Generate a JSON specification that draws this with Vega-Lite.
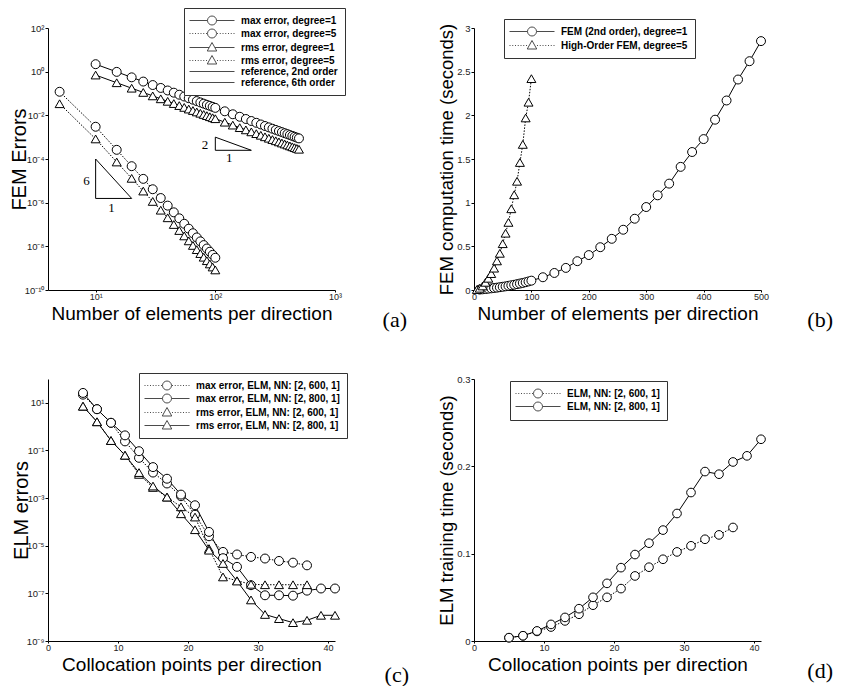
{
"$schema": "https://vega.github.io/schema/vega-lite/v6.json",
"background": "white",
"padding": {"left": 9, "top": 7, "right": 5, "bottom": 12},
"columns": 2,
"bounds": "flush",
"spacing": {"row": 89, "column": 139},
"config": {
  "view": {"stroke": null},
  "font": "Liberation Sans",
  "axis": {"grid": false, "domainColor": "black", "tickColor": "black", "tickSize": 3, "labelFont": "Liberation Sans", "labelFontSize": 9.5, "labelColor": "#222", "labelPadding": 1, "titleFont": "Liberation Sans", "titleFontSize": 19, "titleFontWeight": "normal", "titleColor": "black", "labelFlush": false, "labelOverlap": false},
  "axisX": {"titlePadding": 3, "tickSize": 2, "labelPadding": 0, "labelFontSize": 9},
  "axisY": {"titlePadding": -5},
  "legend": {"orient": "none", "title": null, "labelFont": "Liberation Sans", "labelFontWeight": "bold", "labelFontSize": 10, "labelColor": "black", "symbolSize": 100, "symbolOffset": 15.5, "labelOffset": 23.5, "rowPadding": 0, "padding": 7, "strokeColor": "#333", "fillColor": "white", "symbolStrokeWidth": 1, "symbolStrokeColor": "black", "symbolFillColor": "white", "cornerRadius": 0, "labelLimit": 400},
  "title": {"font": "Liberation Serif", "fontSize": 22, "fontWeight": "normal", "color": "black", "orient": "bottom", "anchor": "end", "frame": "group"}
},
"datasets": {
  "fa": [
    {"s": "max error, degree=1", "n": 10, "e": 2.2}, {"s": "max error, degree=1", "n": 15, "e": 0.978}, {"s": "max error, degree=1", "n": 20, "e": 0.55}, {"s": "max error, degree=1", "n": 25, "e": 0.352}, {"s": "max error, degree=1", "n": 30, "e": 0.244}, {"s": "max error, degree=1", "n": 35, "e": 0.18}, {"s": "max error, degree=1", "n": 40, "e": 0.1375}, {"s": "max error, degree=1", "n": 45, "e": 0.109}, {"s": "max error, degree=1", "n": 50, "e": 0.088}, {"s": "max error, degree=1", "n": 55, "e": 0.0727}, {"s": "max error, degree=1", "n": 60, "e": 0.0611}, {"s": "max error, degree=1", "n": 65, "e": 0.0521}, {"s": "max error, degree=1", "n": 70, "e": 0.0449}, {"s": "max error, degree=1", "n": 75, "e": 0.0391}, {"s": "max error, degree=1", "n": 80, "e": 0.0344}, {"s": "max error, degree=1", "n": 85, "e": 0.0304}, {"s": "max error, degree=1", "n": 90, "e": 0.0272}, {"s": "max error, degree=1", "n": 95, "e": 0.0244}, {"s": "max error, degree=1", "n": 100, "e": 0.022},
    {"s": "max error, degree=1", "n": 120, "e": 0.0153}, {"s": "max error, degree=1", "n": 140, "e": 0.0112}, {"s": "max error, degree=1", "n": 160, "e": 0.0086}, {"s": "max error, degree=1", "n": 180, "e": 0.0068}, {"s": "max error, degree=1", "n": 200, "e": 0.0055}, {"s": "max error, degree=1", "n": 220, "e": 0.00455}, {"s": "max error, degree=1", "n": 240, "e": 0.00382}, {"s": "max error, degree=1", "n": 260, "e": 0.00325}, {"s": "max error, degree=1", "n": 280, "e": 0.00281}, {"s": "max error, degree=1", "n": 300, "e": 0.00244}, {"s": "max error, degree=1", "n": 320, "e": 0.00215}, {"s": "max error, degree=1", "n": 340, "e": 0.0019}, {"s": "max error, degree=1", "n": 360, "e": 0.0017}, {"s": "max error, degree=1", "n": 380, "e": 0.00152}, {"s": "max error, degree=1", "n": 400, "e": 0.00138}, {"s": "max error, degree=1", "n": 420, "e": 0.00125}, {"s": "max error, degree=1", "n": 440, "e": 0.00114}, {"s": "max error, degree=1", "n": 460, "e": 0.00104}, {"s": "max error, degree=1", "n": 480, "e": 0.000955}, {"s": "max error, degree=1", "n": 500, "e": 0.00088},
    {"s": "rms error, degree=1", "n": 10, "e": 0.7}, {"s": "rms error, degree=1", "n": 15, "e": 0.311}, {"s": "rms error, degree=1", "n": 20, "e": 0.175}, {"s": "rms error, degree=1", "n": 25, "e": 0.112}, {"s": "rms error, degree=1", "n": 30, "e": 0.0778}, {"s": "rms error, degree=1", "n": 35, "e": 0.0571}, {"s": "rms error, degree=1", "n": 40, "e": 0.0438}, {"s": "rms error, degree=1", "n": 45, "e": 0.0346}, {"s": "rms error, degree=1", "n": 50, "e": 0.028}, {"s": "rms error, degree=1", "n": 55, "e": 0.0231}, {"s": "rms error, degree=1", "n": 60, "e": 0.0194}, {"s": "rms error, degree=1", "n": 65, "e": 0.0166}, {"s": "rms error, degree=1", "n": 70, "e": 0.0143}, {"s": "rms error, degree=1", "n": 75, "e": 0.01244}, {"s": "rms error, degree=1", "n": 80, "e": 0.01094}, {"s": "rms error, degree=1", "n": 85, "e": 0.00969}, {"s": "rms error, degree=1", "n": 90, "e": 0.00864}, {"s": "rms error, degree=1", "n": 95, "e": 0.00776}, {"s": "rms error, degree=1", "n": 100, "e": 0.007},
    {"s": "rms error, degree=1", "n": 120, "e": 0.00486}, {"s": "rms error, degree=1", "n": 140, "e": 0.00357}, {"s": "rms error, degree=1", "n": 160, "e": 0.00273}, {"s": "rms error, degree=1", "n": 180, "e": 0.00216}, {"s": "rms error, degree=1", "n": 200, "e": 0.00175}, {"s": "rms error, degree=1", "n": 220, "e": 0.00145}, {"s": "rms error, degree=1", "n": 240, "e": 0.00122}, {"s": "rms error, degree=1", "n": 260, "e": 0.00104}, {"s": "rms error, degree=1", "n": 280, "e": 0.000893}, {"s": "rms error, degree=1", "n": 300, "e": 0.000778}, {"s": "rms error, degree=1", "n": 320, "e": 0.000684}, {"s": "rms error, degree=1", "n": 340, "e": 0.000606}, {"s": "rms error, degree=1", "n": 360, "e": 0.00054}, {"s": "rms error, degree=1", "n": 380, "e": 0.000485}, {"s": "rms error, degree=1", "n": 400, "e": 0.000438}, {"s": "rms error, degree=1", "n": 420, "e": 0.000397}, {"s": "rms error, degree=1", "n": 440, "e": 0.000362}, {"s": "rms error, degree=1", "n": 460, "e": 0.000331}, {"s": "rms error, degree=1", "n": 480, "e": 0.000304}, {"s": "rms error, degree=1", "n": 500, "e": 0.00028},
    {"s": "max error, degree=5", "n": 5, "e": 0.12}, {"s": "max error, degree=5", "n": 10, "e": 0.003}, {"s": "max error, degree=5", "n": 15, "e": 0.000263}, {"s": "max error, degree=5", "n": 20, "e": 4.69e-5}, {"s": "max error, degree=5", "n": 25, "e": 1.23e-5}, {"s": "max error, degree=5", "n": 30, "e": 4.12e-6}, {"s": "max error, degree=5", "n": 35, "e": 1.63e-6}, {"s": "max error, degree=5", "n": 40, "e": 7.32e-7}, {"s": "max error, degree=5", "n": 45, "e": 3.61e-7}, {"s": "max error, degree=5", "n": 50, "e": 1.92e-7}, {"s": "max error, degree=5", "n": 55, "e": 1.08e-7}, {"s": "max error, degree=5", "n": 60, "e": 6.43e-8}, {"s": "max error, degree=5", "n": 65, "e": 3.98e-8}, {"s": "max error, degree=5", "n": 70, "e": 2.55e-8}, {"s": "max error, degree=5", "n": 75, "e": 1.69e-8}, {"s": "max error, degree=5", "n": 80, "e": 1.14e-8}, {"s": "max error, degree=5", "n": 85, "e": 7.95e-9}, {"s": "max error, degree=5", "n": 90, "e": 5.65e-9}, {"s": "max error, degree=5", "n": 95, "e": 4.08e-9}, {"s": "max error, degree=5", "n": 100, "e": 3.0e-9},
    {"s": "rms error, degree=5", "n": 5, "e": 0.034}, {"s": "rms error, degree=5", "n": 10, "e": 0.00083}, {"s": "rms error, degree=5", "n": 15, "e": 7.29e-5}, {"s": "rms error, degree=5", "n": 20, "e": 1.3e-5}, {"s": "rms error, degree=5", "n": 25, "e": 3.4e-6}, {"s": "rms error, degree=5", "n": 30, "e": 1.14e-6}, {"s": "rms error, degree=5", "n": 35, "e": 4.52e-7}, {"s": "rms error, degree=5", "n": 40, "e": 2.03e-7}, {"s": "rms error, degree=5", "n": 45, "e": 1.0e-7}, {"s": "rms error, degree=5", "n": 50, "e": 5.31e-8}, {"s": "rms error, degree=5", "n": 55, "e": 3.0e-8}, {"s": "rms error, degree=5", "n": 60, "e": 1.78e-8}, {"s": "rms error, degree=5", "n": 65, "e": 1.1e-8}, {"s": "rms error, degree=5", "n": 70, "e": 7.05e-9}, {"s": "rms error, degree=5", "n": 75, "e": 4.66e-9}, {"s": "rms error, degree=5", "n": 80, "e": 3.17e-9}, {"s": "rms error, degree=5", "n": 85, "e": 2.2e-9}, {"s": "rms error, degree=5", "n": 90, "e": 1.56e-9}, {"s": "rms error, degree=5", "n": 95, "e": 1.13e-9}, {"s": "rms error, degree=5", "n": 100, "e": 8.3e-10}
  ],
  "ta": [
    {"s": "reference, 2nd order", "n": 100, "e": 0.001, "k": 0}, {"s": "reference, 2nd order", "n": 100, "e": 0.00025, "k": 1}, {"s": "reference, 2nd order", "n": 200, "e": 0.00025, "k": 2}, {"s": "reference, 2nd order", "n": 100, "e": 0.001, "k": 3},
    {"s": "reference, 6th order", "n": 10, "e": 0.0001, "k": 0}, {"s": "reference, 6th order", "n": 10, "e": 1.56e-6, "k": 1}, {"s": "reference, 6th order", "n": 20, "e": 1.56e-6, "k": 2}, {"s": "reference, 6th order", "n": 10, "e": 0.0001, "k": 3}
  ],
  "la": [
    {"t": "2", "n": 82, "e": 0.00044}, {"t": "1", "n": 131, "e": 0.00011}, {"t": "6", "n": 8.4, "e": 1e-5}, {"t": "1", "n": 13.6, "e": 5.6e-7}
  ],
  "fb": [
    {"s": "FEM (2nd order), degree=1", "n": 10, "t": 0.005}, {"s": "FEM (2nd order), degree=1", "n": 15, "t": 0.008}, {"s": "FEM (2nd order), degree=1", "n": 20, "t": 0.011}, {"s": "FEM (2nd order), degree=1", "n": 25, "t": 0.015}, {"s": "FEM (2nd order), degree=1", "n": 30, "t": 0.019}, {"s": "FEM (2nd order), degree=1", "n": 35, "t": 0.023}, {"s": "FEM (2nd order), degree=1", "n": 40, "t": 0.027}, {"s": "FEM (2nd order), degree=1", "n": 45, "t": 0.032}, {"s": "FEM (2nd order), degree=1", "n": 50, "t": 0.037}, {"s": "FEM (2nd order), degree=1", "n": 55, "t": 0.042}, {"s": "FEM (2nd order), degree=1", "n": 60, "t": 0.048}, {"s": "FEM (2nd order), degree=1", "n": 65, "t": 0.054}, {"s": "FEM (2nd order), degree=1", "n": 70, "t": 0.06}, {"s": "FEM (2nd order), degree=1", "n": 75, "t": 0.067}, {"s": "FEM (2nd order), degree=1", "n": 80, "t": 0.074}, {"s": "FEM (2nd order), degree=1", "n": 85, "t": 0.081}, {"s": "FEM (2nd order), degree=1", "n": 90, "t": 0.089}, {"s": "FEM (2nd order), degree=1", "n": 95, "t": 0.098}, {"s": "FEM (2nd order), degree=1", "n": 100, "t": 0.107},
    {"s": "FEM (2nd order), degree=1", "n": 120, "t": 0.146}, {"s": "FEM (2nd order), degree=1", "n": 140, "t": 0.195}, {"s": "FEM (2nd order), degree=1", "n": 160, "t": 0.253}, {"s": "FEM (2nd order), degree=1", "n": 180, "t": 0.33}, {"s": "FEM (2nd order), degree=1", "n": 200, "t": 0.4}, {"s": "FEM (2nd order), degree=1", "n": 220, "t": 0.49}, {"s": "FEM (2nd order), degree=1", "n": 240, "t": 0.586}, {"s": "FEM (2nd order), degree=1", "n": 260, "t": 0.69}, {"s": "FEM (2nd order), degree=1", "n": 280, "t": 0.816}, {"s": "FEM (2nd order), degree=1", "n": 300, "t": 0.95}, {"s": "FEM (2nd order), degree=1", "n": 320, "t": 1.084}, {"s": "FEM (2nd order), degree=1", "n": 340, "t": 1.218}, {"s": "FEM (2nd order), degree=1", "n": 360, "t": 1.41}, {"s": "FEM (2nd order), degree=1", "n": 380, "t": 1.58}, {"s": "FEM (2nd order), degree=1", "n": 400, "t": 1.728}, {"s": "FEM (2nd order), degree=1", "n": 420, "t": 1.95}, {"s": "FEM (2nd order), degree=1", "n": 440, "t": 2.17}, {"s": "FEM (2nd order), degree=1", "n": 460, "t": 2.41}, {"s": "FEM (2nd order), degree=1", "n": 480, "t": 2.62}, {"s": "FEM (2nd order), degree=1", "n": 500, "t": 2.85},
    {"s": "High-Order FEM, degree=5", "n": 5, "t": 0.005}, {"s": "High-Order FEM, degree=5", "n": 10, "t": 0.02}, {"s": "High-Order FEM, degree=5", "n": 15, "t": 0.046}, {"s": "High-Order FEM, degree=5", "n": 20, "t": 0.088}, {"s": "High-Order FEM, degree=5", "n": 25, "t": 0.134}, {"s": "High-Order FEM, degree=5", "n": 30, "t": 0.188}, {"s": "High-Order FEM, degree=5", "n": 35, "t": 0.25}, {"s": "High-Order FEM, degree=5", "n": 40, "t": 0.333}, {"s": "High-Order FEM, degree=5", "n": 45, "t": 0.42}, {"s": "High-Order FEM, degree=5", "n": 50, "t": 0.53}, {"s": "High-Order FEM, degree=5", "n": 55, "t": 0.65}, {"s": "High-Order FEM, degree=5", "n": 60, "t": 0.774}, {"s": "High-Order FEM, degree=5", "n": 65, "t": 0.93}, {"s": "High-Order FEM, degree=5", "n": 70, "t": 1.09}, {"s": "High-Order FEM, degree=5", "n": 75, "t": 1.245}, {"s": "High-Order FEM, degree=5", "n": 80, "t": 1.46}, {"s": "High-Order FEM, degree=5", "n": 85, "t": 1.667}, {"s": "High-Order FEM, degree=5", "n": 90, "t": 1.97}, {"s": "High-Order FEM, degree=5", "n": 95, "t": 2.15}, {"s": "High-Order FEM, degree=5", "n": 100, "t": 2.42}
  ],
  "fc": [
    {"s": "max error, ELM, NN: [2, 600, 1]", "p": 5, "e": 22}, {"s": "max error, ELM, NN: [2, 600, 1]", "p": 7, "e": 5.4}, {"s": "max error, ELM, NN: [2, 600, 1]", "p": 9, "e": 1.45}, {"s": "max error, ELM, NN: [2, 600, 1]", "p": 11, "e": 0.24}, {"s": "max error, ELM, NN: [2, 600, 1]", "p": 13, "e": 0.049}, {"s": "max error, ELM, NN: [2, 600, 1]", "p": 15, "e": 0.0118}, {"s": "max error, ELM, NN: [2, 600, 1]", "p": 17, "e": 0.0041}, {"s": "max error, ELM, NN: [2, 600, 1]", "p": 19, "e": 0.0012}, {"s": "max error, ELM, NN: [2, 600, 1]", "p": 21, "e": 0.0002}, {"s": "max error, ELM, NN: [2, 600, 1]", "p": 23, "e": 2.5e-5}, {"s": "max error, ELM, NN: [2, 600, 1]", "p": 25, "e": 5.5e-6}, {"s": "max error, ELM, NN: [2, 600, 1]", "p": 27, "e": 4.3e-6}, {"s": "max error, ELM, NN: [2, 600, 1]", "p": 29, "e": 3.4e-6}, {"s": "max error, ELM, NN: [2, 600, 1]", "p": 31, "e": 2.9e-6}, {"s": "max error, ELM, NN: [2, 600, 1]", "p": 33, "e": 2.3e-6}, {"s": "max error, ELM, NN: [2, 600, 1]", "p": 35, "e": 1.95e-6}, {"s": "max error, ELM, NN: [2, 600, 1]", "p": 37, "e": 1.5e-6},
    {"s": "max error, ELM, NN: [2, 800, 1]", "p": 5, "e": 26}, {"s": "max error, ELM, NN: [2, 800, 1]", "p": 7, "e": 5.4}, {"s": "max error, ELM, NN: [2, 800, 1]", "p": 9, "e": 1.45}, {"s": "max error, ELM, NN: [2, 800, 1]", "p": 11, "e": 0.43}, {"s": "max error, ELM, NN: [2, 800, 1]", "p": 13, "e": 0.093}, {"s": "max error, ELM, NN: [2, 800, 1]", "p": 15, "e": 0.02}, {"s": "max error, ELM, NN: [2, 800, 1]", "p": 17, "e": 0.0065}, {"s": "max error, ELM, NN: [2, 800, 1]", "p": 19, "e": 0.0014}, {"s": "max error, ELM, NN: [2, 800, 1]", "p": 21, "e": 0.0005}, {"s": "max error, ELM, NN: [2, 800, 1]", "p": 23, "e": 3.8e-5}, {"s": "max error, ELM, NN: [2, 800, 1]", "p": 25, "e": 3e-6}, {"s": "max error, ELM, NN: [2, 800, 1]", "p": 27, "e": 1.3e-6}, {"s": "max error, ELM, NN: [2, 800, 1]", "p": 29, "e": 2.2e-7}, {"s": "max error, ELM, NN: [2, 800, 1]", "p": 31, "e": 8.3e-8}, {"s": "max error, ELM, NN: [2, 800, 1]", "p": 33, "e": 8.3e-8}, {"s": "max error, ELM, NN: [2, 800, 1]", "p": 35, "e": 8e-8}, {"s": "max error, ELM, NN: [2, 800, 1]", "p": 37, "e": 1.3e-7}, {"s": "max error, ELM, NN: [2, 800, 1]", "p": 39, "e": 1.6e-7}, {"s": "max error, ELM, NN: [2, 800, 1]", "p": 41, "e": 1.6e-7},
    {"s": "rms error, ELM, NN: [2, 600, 1]", "p": 5, "e": 7.2}, {"s": "rms error, ELM, NN: [2, 600, 1]", "p": 7, "e": 1.6}, {"s": "rms error, ELM, NN: [2, 600, 1]", "p": 9, "e": 0.26}, {"s": "rms error, ELM, NN: [2, 600, 1]", "p": 11, "e": 0.063}, {"s": "rms error, ELM, NN: [2, 600, 1]", "p": 13, "e": 0.0099}, {"s": "rms error, ELM, NN: [2, 600, 1]", "p": 15, "e": 0.0028}, {"s": "rms error, ELM, NN: [2, 600, 1]", "p": 17, "e": 0.0011}, {"s": "rms error, ELM, NN: [2, 600, 1]", "p": 19, "e": 0.00043}, {"s": "rms error, ELM, NN: [2, 600, 1]", "p": 21, "e": 0.00016}, {"s": "rms error, ELM, NN: [2, 600, 1]", "p": 23, "e": 7.6e-6}, {"s": "rms error, ELM, NN: [2, 600, 1]", "p": 25, "e": 4.9e-7}, {"s": "rms error, ELM, NN: [2, 600, 1]", "p": 27, "e": 3.4e-7}, {"s": "rms error, ELM, NN: [2, 600, 1]", "p": 29, "e": 2.4e-7}, {"s": "rms error, ELM, NN: [2, 600, 1]", "p": 31, "e": 2.3e-7}, {"s": "rms error, ELM, NN: [2, 600, 1]", "p": 33, "e": 2.3e-7}, {"s": "rms error, ELM, NN: [2, 600, 1]", "p": 35, "e": 2.3e-7}, {"s": "rms error, ELM, NN: [2, 600, 1]", "p": 37, "e": 2.3e-7},
    {"s": "rms error, ELM, NN: [2, 800, 1]", "p": 5, "e": 7.2}, {"s": "rms error, ELM, NN: [2, 800, 1]", "p": 7, "e": 1.6}, {"s": "rms error, ELM, NN: [2, 800, 1]", "p": 9, "e": 0.26}, {"s": "rms error, ELM, NN: [2, 800, 1]", "p": 11, "e": 0.063}, {"s": "rms error, ELM, NN: [2, 800, 1]", "p": 13, "e": 0.0118}, {"s": "rms error, ELM, NN: [2, 800, 1]", "p": 15, "e": 0.0032}, {"s": "rms error, ELM, NN: [2, 800, 1]", "p": 17, "e": 0.0011}, {"s": "rms error, ELM, NN: [2, 800, 1]", "p": 19, "e": 0.00022}, {"s": "rms error, ELM, NN: [2, 800, 1]", "p": 21, "e": 4.7e-5}, {"s": "rms error, ELM, NN: [2, 800, 1]", "p": 23, "e": 6.5e-6}, {"s": "rms error, ELM, NN: [2, 800, 1]", "p": 25, "e": 1.8e-6}, {"s": "rms error, ELM, NN: [2, 800, 1]", "p": 27, "e": 3.3e-7}, {"s": "rms error, ELM, NN: [2, 800, 1]", "p": 29, "e": 5.3e-8}, {"s": "rms error, ELM, NN: [2, 800, 1]", "p": 31, "e": 1.3e-8}, {"s": "rms error, ELM, NN: [2, 800, 1]", "p": 33, "e": 8.7e-9}, {"s": "rms error, ELM, NN: [2, 800, 1]", "p": 35, "e": 5.9e-9}, {"s": "rms error, ELM, NN: [2, 800, 1]", "p": 37, "e": 7.4e-9}, {"s": "rms error, ELM, NN: [2, 800, 1]", "p": 39, "e": 1.2e-8}, {"s": "rms error, ELM, NN: [2, 800, 1]", "p": 41, "e": 1.2e-8}
  ],
  "fd": [
    {"s": "ELM, NN: [2, 600, 1]", "p": 5, "t": 0.0038}, {"s": "ELM, NN: [2, 600, 1]", "p": 7, "t": 0.006}, {"s": "ELM, NN: [2, 600, 1]", "p": 9, "t": 0.011}, {"s": "ELM, NN: [2, 600, 1]", "p": 11, "t": 0.016}, {"s": "ELM, NN: [2, 600, 1]", "p": 13, "t": 0.023}, {"s": "ELM, NN: [2, 600, 1]", "p": 15, "t": 0.0306}, {"s": "ELM, NN: [2, 600, 1]", "p": 17, "t": 0.041}, {"s": "ELM, NN: [2, 600, 1]", "p": 19, "t": 0.05}, {"s": "ELM, NN: [2, 600, 1]", "p": 21, "t": 0.06}, {"s": "ELM, NN: [2, 600, 1]", "p": 23, "t": 0.0745}, {"s": "ELM, NN: [2, 600, 1]", "p": 25, "t": 0.0845}, {"s": "ELM, NN: [2, 600, 1]", "p": 27, "t": 0.0936}, {"s": "ELM, NN: [2, 600, 1]", "p": 29, "t": 0.102}, {"s": "ELM, NN: [2, 600, 1]", "p": 31, "t": 0.109}, {"s": "ELM, NN: [2, 600, 1]", "p": 33, "t": 0.1165}, {"s": "ELM, NN: [2, 600, 1]", "p": 35, "t": 0.1215}, {"s": "ELM, NN: [2, 600, 1]", "p": 37, "t": 0.13},
    {"s": "ELM, NN: [2, 800, 1]", "p": 5, "t": 0.0038}, {"s": "ELM, NN: [2, 800, 1]", "p": 7, "t": 0.006}, {"s": "ELM, NN: [2, 800, 1]", "p": 9, "t": 0.0115}, {"s": "ELM, NN: [2, 800, 1]", "p": 11, "t": 0.019}, {"s": "ELM, NN: [2, 800, 1]", "p": 13, "t": 0.027}, {"s": "ELM, NN: [2, 800, 1]", "p": 15, "t": 0.037}, {"s": "ELM, NN: [2, 800, 1]", "p": 17, "t": 0.05}, {"s": "ELM, NN: [2, 800, 1]", "p": 19, "t": 0.066}, {"s": "ELM, NN: [2, 800, 1]", "p": 21, "t": 0.084}, {"s": "ELM, NN: [2, 800, 1]", "p": 23, "t": 0.099}, {"s": "ELM, NN: [2, 800, 1]", "p": 25, "t": 0.112}, {"s": "ELM, NN: [2, 800, 1]", "p": 27, "t": 0.127}, {"s": "ELM, NN: [2, 800, 1]", "p": 29, "t": 0.146}, {"s": "ELM, NN: [2, 800, 1]", "p": 31, "t": 0.17}, {"s": "ELM, NN: [2, 800, 1]", "p": 33, "t": 0.194}, {"s": "ELM, NN: [2, 800, 1]", "p": 35, "t": 0.191}, {"s": "ELM, NN: [2, 800, 1]", "p": 37, "t": 0.205}, {"s": "ELM, NN: [2, 800, 1]", "p": 39, "t": 0.212}, {"s": "ELM, NN: [2, 800, 1]", "p": 41, "t": 0.231}
  ]
},
"concat": [
  {
    "width": 287, "height": 262,
    "title": {"text": "(a)", "dx": 72, "dy": -17},
    "resolve": {"scale": {"shape": "independent"}},
    "layer": [
      {"data": {"name": "fa"}, "transform": [{"filter": {"field": "s", "oneOf": ["max error, degree=1", "rms error, degree=1"]}}], "mark": {"type": "line", "color": "black", "strokeWidth": 1},
       "encoding": {
         "x": {"field": "n", "type": "quantitative", "scale": {"type": "log", "domain": [4, 1000]}, "axis": {"title": "Number of elements per direction", "values": [10, 100, 1000], "labelExpr": "datum.value < 50 ? '10¹' : datum.value < 500 ? '10²' : '10³'"}},
         "y": {"field": "e", "type": "quantitative", "scale": {"type": "log", "domain": [1e-10, 100]}, "axis": {"title": "FEM Errors", "titleFontSize": 20, "values": [1e-10, 1e-8, 1e-6, 0.0001, 0.01, 1, 100], "labelExpr": "datum.value >= 50 ? '10²' : datum.value >= 0.5 ? '10⁰' : datum.value >= 0.005 ? '10⁻²' : datum.value >= 0.00005 ? '10⁻⁴' : datum.value >= 5e-7 ? '10⁻⁶' : datum.value >= 5e-9 ? '10⁻⁸' : '10⁻¹⁰'"}},
         "detail": {"field": "s"}
       }},
      {"data": {"name": "fa"}, "transform": [{"filter": {"field": "s", "oneOf": ["max error, degree=5", "rms error, degree=5"]}}], "mark": {"type": "line", "color": "black", "strokeWidth": 1, "strokeDash": [1.5, 1.5]},
       "encoding": {
         "x": {"field": "n", "type": "quantitative", "scale": {"type": "log", "domain": [4, 1000]}},
         "y": {"field": "e", "type": "quantitative", "scale": {"type": "log", "domain": [1e-10, 100]}},
         "detail": {"field": "s"}
       }},
      {"data": {"name": "ta"}, "mark": {"type": "line", "color": "black", "strokeWidth": 1},
       "encoding": {
         "x": {"field": "n", "type": "quantitative", "scale": {"type": "log", "domain": [4, 1000]}},
         "y": {"field": "e", "type": "quantitative", "scale": {"type": "log", "domain": [1e-10, 100]}},
         "detail": {"field": "s"},
         "order": {"field": "k", "type": "quantitative"}
       }},
      {"data": {"name": "fa"}, "mark": {"type": "point", "filled": true, "fill": "white", "stroke": "black", "strokeWidth": 1, "size": 80, "opacity": 1},
       "encoding": {
         "x": {"field": "n", "type": "quantitative", "scale": {"type": "log", "domain": [4, 1000]}},
         "y": {"field": "e", "type": "quantitative", "scale": {"type": "log", "domain": [1e-10, 100]}},
         "shape": {"field": "s", "type": "nominal", "scale": {"domain": ["max error, degree=1", "max error, degree=5", "rms error, degree=1", "rms error, degree=5"], "range": ["circle", "circle", "triangle-up", "triangle-up"]}, "legend": null}
       }},
      {"data": {"name": "la"}, "mark": {"type": "text", "font": "Liberation Serif", "fontSize": 13, "color": "black"},
       "encoding": {
         "x": {"field": "n", "type": "quantitative", "scale": {"type": "log", "domain": [4, 1000]}},
         "y": {"field": "e", "type": "quantitative", "scale": {"type": "log", "domain": [1e-10, 100]}},
         "text": {"field": "t"}
       }},
      {"data": {"name": "fa"}, "transform": [{"filter": "false"}], "mark": {"type": "point", "color": "black"},
       "encoding": {
         "x": {"field": "n", "type": "quantitative", "scale": {"type": "log", "domain": [4, 1000]}},
         "y": {"field": "e", "type": "quantitative", "scale": {"type": "log", "domain": [1e-10, 100]}},
         "shape": {"field": "s", "type": "nominal",
           "scale": {"domain": ["max error, degree=1", "max error, degree=5", "rms error, degree=1", "rms error, degree=5", "reference, 2nd order", "reference, 6th order"],
                     "range": ["M-4.5,0H-0.9M0.9,0H4.5M0.9,0A0.9,0.9,0,1,1,-0.9,0A0.9,0.9,0,1,1,0.9,0Z",
                               "M-4.5,0H-4.3M-3.95,0H-3.75M-3.4,0H-3.2M-2.85,0H-2.65M-2.3,0H-2.1M-1.75,0H-1.55M-1.2,0H-1M1,0H1.2M1.55,0H1.75M2.1,0H2.3M2.65,0H2.85M3.2,0H3.4M3.75,0H3.95M4.3,0H4.5M0.9,0A0.9,0.9,0,1,1,-0.9,0A0.9,0.9,0,1,1,0.9,0Z",
                               "M-4.5,0H-0.6M0.6,0H4.5M0,-1L0.95,0.7L-0.95,0.7Z",
                               "M-4.5,0H-4.3M-3.95,0H-3.75M-3.4,0H-3.2M-2.85,0H-2.65M-2.3,0H-2.1M-1.75,0H-1.55M-1.2,0H-1M1,0H1.2M1.55,0H1.75M2.1,0H2.3M2.65,0H2.85M3.2,0H3.4M3.75,0H3.95M4.3,0H4.5M0,-1L0.95,0.7L-0.95,0.7Z",
                               "M-4.5,0H4.5",
                               "M-4.5,0H4.5"]},
           "legend": {"legendX": 136, "legendY": -20,
             "encode": {"symbols": {"update": {"fill": {"signal": "datum.value === 'rms error, degree=1' ? '#b0b0b0' : 'white'"}, "stroke": {"value": "black"}, "strokeWidth": {"value": 1}, "opacity": {"value": 1}}}, "legend": {"update": {"strokeWidth": {"value": 1.5}}}}}
         }
       }}
    ]
  },
  {
    "width": 287, "height": 262,
    "title": {"text": "(b)", "dx": 72, "dy": -17},
    "resolve": {"scale": {"shape": "independent"}},
    "layer": [
      {"data": {"name": "fb"}, "transform": [{"filter": {"field": "s", "equal": "FEM (2nd order), degree=1"}}], "mark": {"type": "line", "color": "black", "strokeWidth": 1},
       "encoding": {
         "x": {"field": "n", "type": "quantitative", "scale": {"domain": [0, 500], "nice": false}, "axis": {"title": "Number of elements per direction", "values": [0, 100, 200, 300, 400, 500]}},
         "y": {"field": "t", "type": "quantitative", "scale": {"domain": [0, 3], "nice": false}, "axis": {"title": "FEM computation time (seconds)", "titleFontSize": 18.5, "titlePadding": 0, "values": [0, 0.5, 1, 1.5, 2, 2.5, 3], "labelExpr": "'' + datum.value"}}
       }},
      {"data": {"name": "fb"}, "transform": [{"filter": {"field": "s", "equal": "High-Order FEM, degree=5"}}], "mark": {"type": "line", "color": "black", "strokeWidth": 1, "strokeDash": [1.5, 1.5]},
       "encoding": {
         "x": {"field": "n", "type": "quantitative", "scale": {"domain": [0, 500], "nice": false}},
         "y": {"field": "t", "type": "quantitative", "scale": {"domain": [0, 3], "nice": false}}
       }},
      {"data": {"name": "fb"}, "mark": {"type": "point", "filled": true, "fill": "white", "stroke": "black", "strokeWidth": 1, "size": 80, "opacity": 1},
       "encoding": {
         "x": {"field": "n", "type": "quantitative", "scale": {"domain": [0, 500], "nice": false}},
         "y": {"field": "t", "type": "quantitative", "scale": {"domain": [0, 3], "nice": false}},
         "shape": {"field": "s", "type": "nominal", "scale": {"domain": ["FEM (2nd order), degree=1", "High-Order FEM, degree=5"], "range": ["circle", "triangle-up"]}, "legend": null}
       }},
      {"data": {"name": "fb"}, "transform": [{"filter": "false"}], "mark": {"type": "point", "color": "black"},
       "encoding": {
         "x": {"field": "n", "type": "quantitative", "scale": {"domain": [0, 500], "nice": false}},
         "y": {"field": "t", "type": "quantitative", "scale": {"domain": [0, 3], "nice": false}},
         "shape": {"field": "s", "type": "nominal",
           "scale": {"domain": ["FEM (2nd order), degree=1", "High-Order FEM, degree=5"],
                     "range": ["M-4.5,0H-0.9M0.9,0H4.5M0.9,0A0.9,0.9,0,1,1,-0.9,0A0.9,0.9,0,1,1,0.9,0Z",
                               "M-4.5,0H-4.3M-3.95,0H-3.75M-3.4,0H-3.2M-2.85,0H-2.65M-2.3,0H-2.1M-1.75,0H-1.55M-1.2,0H-1M1,0H1.2M1.55,0H1.75M2.1,0H2.3M2.65,0H2.85M3.2,0H3.4M3.75,0H3.95M4.3,0H4.5M0,-1L0.95,0.7L-0.95,0.7Z"]},
           "legend": {"legendX": 30, "legendY": -9,
             "encode": {"symbols": {"update": {"fill": {"value": "white"}, "stroke": {"value": "black"}, "strokeWidth": {"value": 1}, "opacity": {"value": 1}}}, "legend": {"update": {"strokeWidth": {"value": 1.5}}}}}
         }
       }}
    ]
  },
  {
    "width": 287, "height": 262,
    "title": {"text": "(c)", "dx": 74, "dy": -13},
    "resolve": {"scale": {"shape": "independent"}},
    "layer": [
      {"data": {"name": "fc"}, "transform": [{"filter": {"field": "s", "oneOf": ["max error, ELM, NN: [2, 800, 1]", "rms error, ELM, NN: [2, 800, 1]"]}}], "mark": {"type": "line", "color": "black", "strokeWidth": 1},
       "encoding": {
         "x": {"field": "p", "type": "quantitative", "scale": {"domain": [0, 41], "nice": false}, "axis": {"title": "Collocation points per direction", "values": [0, 10, 20, 30, 40]}},
         "y": {"field": "e", "type": "quantitative", "scale": {"type": "log", "domain": [1e-9, 100]}, "axis": {"title": "ELM errors", "titleFontSize": 20, "values": [1e-9, 1e-7, 1e-5, 0.001, 0.1, 10], "labelExpr": "datum.value >= 5 ? '10¹' : datum.value >= 0.05 ? '10⁻¹' : datum.value >= 0.0005 ? '10⁻³' : datum.value >= 0.000005 ? '10⁻⁵' : datum.value >= 5e-8 ? '10⁻⁷' : '10⁻⁹'"}},
         "detail": {"field": "s"}
       }},
      {"data": {"name": "fc"}, "transform": [{"filter": {"field": "s", "oneOf": ["max error, ELM, NN: [2, 600, 1]", "rms error, ELM, NN: [2, 600, 1]"]}}], "mark": {"type": "line", "color": "black", "strokeWidth": 1, "strokeDash": [1.5, 1.5]},
       "encoding": {
         "x": {"field": "p", "type": "quantitative", "scale": {"domain": [0, 41], "nice": false}},
         "y": {"field": "e", "type": "quantitative", "scale": {"type": "log", "domain": [1e-9, 100]}},
         "detail": {"field": "s"}
       }},
      {"data": {"name": "fc"}, "mark": {"type": "point", "filled": true, "fill": "white", "stroke": "black", "strokeWidth": 1, "size": 80, "opacity": 1},
       "encoding": {
         "x": {"field": "p", "type": "quantitative", "scale": {"domain": [0, 41], "nice": false}},
         "y": {"field": "e", "type": "quantitative", "scale": {"type": "log", "domain": [1e-9, 100]}},
         "shape": {"field": "s", "type": "nominal", "scale": {"domain": ["max error, ELM, NN: [2, 600, 1]", "max error, ELM, NN: [2, 800, 1]", "rms error, ELM, NN: [2, 600, 1]", "rms error, ELM, NN: [2, 800, 1]"], "range": ["circle", "circle", "triangle-up", "triangle-up"]}, "legend": null}
       }},
      {"data": {"name": "fc"}, "transform": [{"filter": "false"}], "mark": {"type": "point", "color": "black"},
       "encoding": {
         "x": {"field": "p", "type": "quantitative", "scale": {"domain": [0, 41], "nice": false}},
         "y": {"field": "e", "type": "quantitative", "scale": {"type": "log", "domain": [1e-9, 100]}},
         "shape": {"field": "s", "type": "nominal",
           "scale": {"domain": ["max error, ELM, NN: [2, 600, 1]", "max error, ELM, NN: [2, 800, 1]", "rms error, ELM, NN: [2, 600, 1]", "rms error, ELM, NN: [2, 800, 1]"],
                     "range": ["M-4.5,0H-4.3M-3.95,0H-3.75M-3.4,0H-3.2M-2.85,0H-2.65M-2.3,0H-2.1M-1.75,0H-1.55M-1.2,0H-1M1,0H1.2M1.55,0H1.75M2.1,0H2.3M2.65,0H2.85M3.2,0H3.4M3.75,0H3.95M4.3,0H4.5M0.9,0A0.9,0.9,0,1,1,-0.9,0A0.9,0.9,0,1,1,0.9,0Z",
                               "M-4.5,0H-0.9M0.9,0H4.5M0.9,0A0.9,0.9,0,1,1,-0.9,0A0.9,0.9,0,1,1,0.9,0Z",
                               "M-4.5,0H-4.3M-3.95,0H-3.75M-3.4,0H-3.2M-2.85,0H-2.65M-2.3,0H-2.1M-1.75,0H-1.55M-1.2,0H-1M1,0H1.2M1.55,0H1.75M2.1,0H2.3M2.65,0H2.85M3.2,0H3.4M3.75,0H3.95M4.3,0H4.5M0,-1L0.95,0.7L-0.95,0.7Z",
                               "M-4.5,0H-0.6M0.6,0H4.5M0,-1L0.95,0.7L-0.95,0.7Z"]},
           "legend": {"legendX": 91, "legendY": -6,
             "encode": {"symbols": {"update": {"fill": {"signal": "datum.value === 'rms error, ELM, NN: [2, 800, 1]' ? '#b0b0b0' : 'white'"}, "stroke": {"value": "black"}, "strokeWidth": {"value": 1}, "opacity": {"value": 1}}}, "legend": {"update": {"strokeWidth": {"value": 1.5}}}}}
         }
       }}
    ]
  },
  {
    "width": 287, "height": 262,
    "title": {"text": "(d)", "dx": 72, "dy": -17},
    "resolve": {"scale": {"shape": "independent"}},
    "layer": [
      {"data": {"name": "fd"}, "transform": [{"filter": {"field": "s", "equal": "ELM, NN: [2, 800, 1]"}}], "mark": {"type": "line", "color": "black", "strokeWidth": 1},
       "encoding": {
         "x": {"field": "p", "type": "quantitative", "scale": {"domain": [0, 41], "nice": false}, "axis": {"title": "Collocation points per direction", "values": [0, 10, 20, 30, 40]}},
         "y": {"field": "t", "type": "quantitative", "scale": {"domain": [0, 0.3], "nice": false}, "axis": {"title": "ELM training time (seconds)", "titleFontSize": 18.5, "titlePadding": 0, "values": [0, 0.1, 0.2, 0.3], "labelExpr": "'' + datum.value"}}
       }},
      {"data": {"name": "fd"}, "transform": [{"filter": {"field": "s", "equal": "ELM, NN: [2, 600, 1]"}}], "mark": {"type": "line", "color": "black", "strokeWidth": 1, "strokeDash": [1.5, 1.5]},
       "encoding": {
         "x": {"field": "p", "type": "quantitative", "scale": {"domain": [0, 41], "nice": false}},
         "y": {"field": "t", "type": "quantitative", "scale": {"domain": [0, 0.3], "nice": false}}
       }},
      {"data": {"name": "fd"}, "mark": {"type": "point", "filled": true, "fill": "white", "stroke": "black", "strokeWidth": 1, "size": 75, "opacity": 1, "shape": "circle"},
       "encoding": {
         "x": {"field": "p", "type": "quantitative", "scale": {"domain": [0, 41], "nice": false}},
         "y": {"field": "t", "type": "quantitative", "scale": {"domain": [0, 0.3], "nice": false}}
       }},
      {"data": {"name": "fd"}, "transform": [{"filter": "false"}], "mark": {"type": "point", "color": "black"},
       "encoding": {
         "x": {"field": "p", "type": "quantitative", "scale": {"domain": [0, 41], "nice": false}},
         "y": {"field": "t", "type": "quantitative", "scale": {"domain": [0, 0.3], "nice": false}},
         "shape": {"field": "s", "type": "nominal",
           "scale": {"domain": ["ELM, NN: [2, 600, 1]", "ELM, NN: [2, 800, 1]"],
                     "range": ["M-4.5,0H-4.3M-3.95,0H-3.75M-3.4,0H-3.2M-2.85,0H-2.65M-2.3,0H-2.1M-1.75,0H-1.55M-1.2,0H-1M1,0H1.2M1.55,0H1.75M2.1,0H2.3M2.65,0H2.85M3.2,0H3.4M3.75,0H3.95M4.3,0H4.5M0.9,0A0.9,0.9,0,1,1,-0.9,0A0.9,0.9,0,1,1,0.9,0Z",
                               "M-4.5,0H-0.9M0.9,0H4.5M0.9,0A0.9,0.9,0,1,1,-0.9,0A0.9,0.9,0,1,1,0.9,0Z"]},
           "legend": {"legendX": 36, "legendY": 2,
             "encode": {"symbols": {"update": {"fill": {"value": "white"}, "stroke": {"value": "black"}, "strokeWidth": {"value": 1}, "opacity": {"value": 1}}}, "legend": {"update": {"strokeWidth": {"value": 1.5}}}}}
         }
       }}
    ]
  }
]
}
